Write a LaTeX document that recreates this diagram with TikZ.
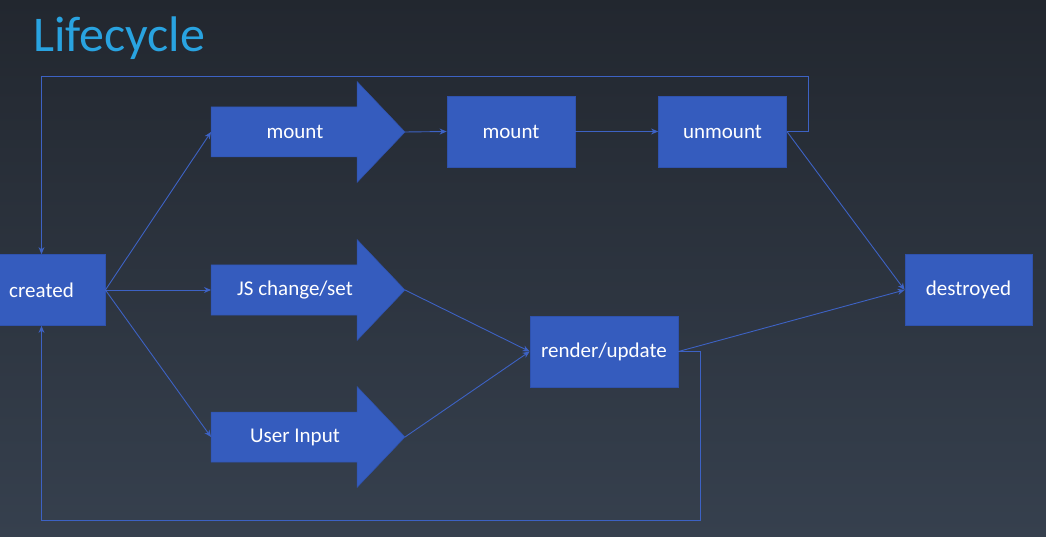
\documentclass[tikz,border=0pt]{standalone}
\usepackage{fontspec}
\setmainfont{Carlito}
\usetikzlibrary{arrows.meta}
\definecolor{bgtop}{HTML}{22272F}
\definecolor{bgbot}{HTML}{36404E}
\definecolor{boxblue}{HTML}{355CBE}
\definecolor{boxedge}{HTML}{2F52AD}
\definecolor{linecol}{HTML}{3D62C4}
\definecolor{titlecol}{HTML}{29A3E0}
\tikzset{
  x=1pt, y=-1pt,
  box/.style={draw=boxedge, line width=0.8pt, fill=boxblue, text=white, inner sep=0pt,
    font=\fontsize{21}{25}\selectfont},
  blockarrow/.style={draw=boxedge, line width=0.5pt, fill=boxblue},
  lbl/.style={text=white, inner sep=0pt, font=\fontsize{21}{25}\selectfont},
  conn/.style={draw=linecol, line width=0.9pt, -{Stealth[length=7pt,width=6pt]}},
}
\newcommand{\blkarrow}[3]{% name, tail x, y
  \path[blockarrow] (#2,#3-25) -- (#2+146,#3-25) -- (#2+146,#3-50.5) -- (#2+194,#3)
    -- (#2+146,#3+50.5) -- (#2+146,#3+25) -- (#2,#3+25) -- cycle;
  \coordinate (#1-tail) at (#2,#3);
  \coordinate (#1-tip) at (#2+194,#3);
}
\begin{document}
\begin{tikzpicture}
\useasboundingbox (0,0) rectangle (1046,537);
\shade[top color=bgtop, bottom color=bgbot] (0,0) rectangle (1046,537);
\node[anchor=base west, text=titlecol, inner sep=0pt, font=\fontsize{50}{60}\selectfont] (title) at (33,52) {Lifecycle};

% boxes
\node[box, minimum width=127pt, minimum height=71pt] (created) at (41.5,290) {created};
\node[box, minimum width=128pt, minimum height=71pt] (mountb) at (511,131.5) {mount};
\node[box, minimum width=128pt, minimum height=71pt] (unmount) at (722.5,131.5) {unmount};
\node[box, minimum width=148pt, minimum height=71pt] (render) at (604,351.5) {render/update};
\node[box, minimum width=127pt, minimum height=71pt] (destroyed) at (968.5,290) {destroyed};

% block arrows
\blkarrow{mounta}{211}{132}
\node[lbl] (mountt) at (295,132) {mount};
\blkarrow{jsa}{211}{290}
\node[lbl] (jst) at (295,290) {JS change/set};
\blkarrow{uia}{211}{437}
\node[lbl] (uit) at (295,437) {User Input};

% connectors
\coordinate (c1) at (808,131.5);
\coordinate (c2) at (808,76);
\coordinate (c3) at (41.5,76);
\coordinate (d1) at (700,351.5);
\coordinate (d2) at (700,520);
\coordinate (d3) at (41.5,520);

\draw[conn] (created.east) -- (mounta-tail);
\draw[conn] (created.east) -- (jsa-tail);
\draw[conn] (created.east) -- (uia-tail);
\draw[conn] (mounta-tip) -- (mountb.west);
\draw[conn] (mountb.east) -- (unmount.west);
\draw[conn] (jsa-tip) -- (render.west);
\draw[conn] (uia-tip) -- (render.west);
\draw[conn] (unmount.east) -- (destroyed.west);
\draw[conn] (render.east) -- (destroyed.west);
\draw[conn] (unmount.east) -- (c1) -- (c2) -- (c3) -- (created.north);
\draw[conn] (render.east) -- (d1) -- (d2) -- (d3) -- (created.south);
\end{tikzpicture}
\end{document}
